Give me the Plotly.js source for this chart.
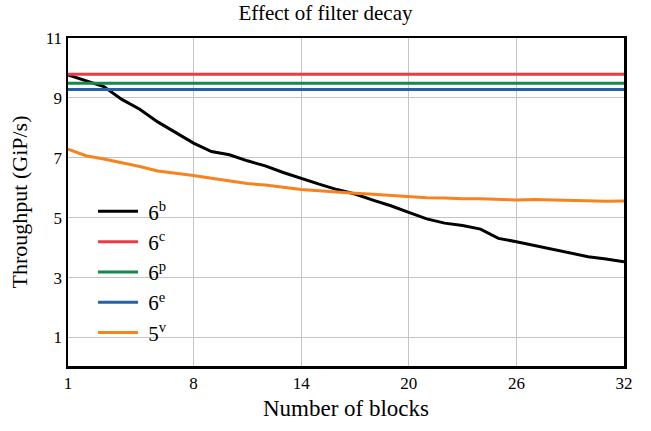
<!DOCTYPE html>
<html>
<head>
<meta charset="utf-8">
<script src="https://cdn.plot.ly/plotly-3.0.1.min.js"></script>
<style>html,body{margin:0;padding:0;background:#fff;}#chart{width:651px;height:431px;}</style>
</head>
<body>
<div id="chart"></div>
<script>
const blocks = [1,2,3,4,5,6,7,8,9,10,11,12,13,14,15,16,17,18,19,20,21,22,23,24,25,26,27,28,29,30,31,32];
const series6b = [9.77,9.57,9.38,8.95,8.62,8.2,7.84,7.49,7.21,7.1,6.9,6.73,6.51,6.31,6.12,5.94,5.79,5.59,5.4,5.18,4.96,4.82,4.74,4.62,4.31,4.2,4.07,3.94,3.81,3.7,3.62,3.53];
const series5v = [7.29,7.07,6.96,6.84,6.71,6.56,6.49,6.41,6.32,6.23,6.14,6.09,6.01,5.94,5.9,5.87,5.82,5.78,5.74,5.71,5.67,5.66,5.63,5.63,5.61,5.59,5.61,5.59,5.57,5.56,5.55,5.56];
const flatX = [1, 32];
const series6c = [9.79, 9.79];
const series6p = [9.49, 9.49];
const series6e = [9.28, 9.28];
const xTicks = [1, 8, 14, 20, 26, 32];
const yTicks = [1, 3, 5, 7, 9, 11];

const FAM = "'Liberation Serif', 'Times New Roman', Times, serif";

const traces = [
  {x: blocks, y: series6b, name: '\u00a06<sup>b</sup>', mode: 'lines', line: {color: '#000000', width: 3}},
  {x: flatX, y: series6c, name: '\u00a06<sup>c</sup>', mode: 'lines', line: {color: '#ee3a43', width: 3}},
  {x: flatX, y: series6p, name: '\u00a06<sup>p</sup>', mode: 'lines', line: {color: '#138a4b', width: 3}},
  {x: flatX, y: series6e, name: '\u00a06<sup>e</sup>', mode: 'lines', line: {color: '#2561a8', width: 3}},
  {x: blocks, y: series5v, name: '\u00a05<sup>v</sup>', mode: 'lines', line: {color: '#f8821e', width: 3}}
];

const layout = {
  width: 651, height: 431,
  margin: {l: 68, r: 27, t: 38, b: 65},
  paper_bgcolor: '#fff', plot_bgcolor: '#fff',
  font: {family: FAM, color: '#000', size: 17},
  title: {text: 'Effect of filter decay', font: {family: FAM, size: 21}, x: 0.5, xanchor: 'center', y: 0.988, yanchor: 'top'},
  xaxis: {
    range: [1, 32], tickvals: xTicks, ticktext: xTicks.map(String),
    showgrid: true, gridcolor: '#c4c4c4', gridwidth: 1,
    showline: true, linecolor: '#000', linewidth: 2.5, mirror: true,
    ticks: '', zeroline: false, tickfont: {family: FAM, size: 17},
    title: {text: 'Number of blocks', font: {family: FAM, size: 23}, standoff: 8}
  },
  yaxis: {
    range: [0.05, 11], tickvals: yTicks, ticktext: yTicks.map(String),
    showgrid: true, gridcolor: '#c4c4c4', gridwidth: 1,
    showline: true, linecolor: '#000', linewidth: 2.5, mirror: true,
    ticks: '', zeroline: false, tickfont: {family: FAM, size: 17},
    title: {text: 'Throughput (GiP/s)', font: {family: FAM, size: 22}, standoff: 12}
  },
  legend: {
    x: 0.045, y: 0.533, xanchor: 'left', yanchor: 'top',
    bgcolor: 'rgba(0,0,0,0)', borderwidth: 0,
    font: {size: 21, family: FAM},
    itemwidth: 40,
    tracegroupgap: 0
  },
  showlegend: true
};

Plotly.newPlot('chart', traces, layout, {displayModeBar: false, staticPlot: true});
</script>
</body>
</html>
